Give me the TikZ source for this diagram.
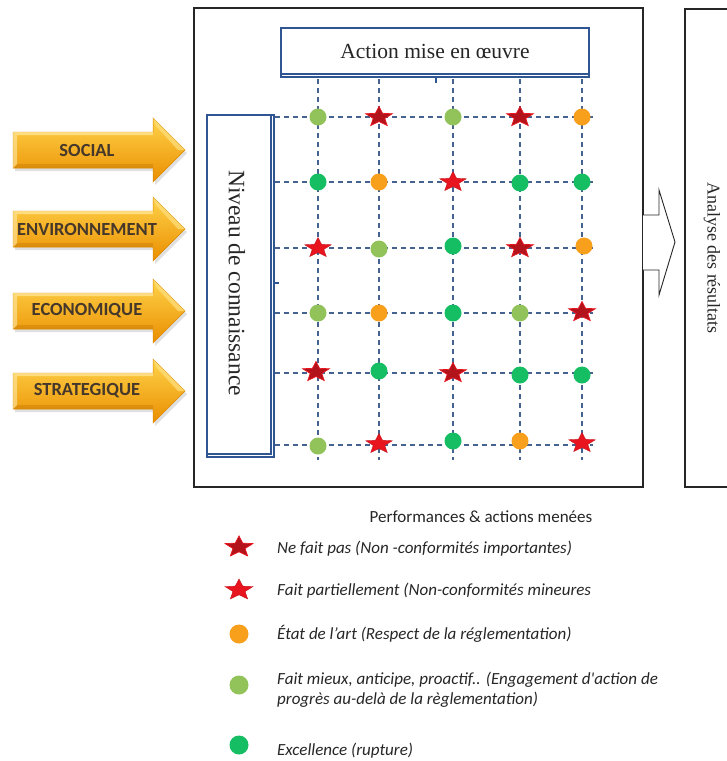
\documentclass[tikz,border=0pt]{standalone}
\usepackage{fontspec}
\setmainfont{Liberation Serif}
\newfontfamily\calib{Carlito}
\usetikzlibrary{shapes.geometric}

\definecolor{boxblue}{HTML}{2F5593}
\definecolor{gridblue}{HTML}{46638F}
\definecolor{darkstar}{HTML}{B3141C}
\definecolor{redstar}{HTML}{E8141E}
\definecolor{lgreen}{HTML}{92C35B}
\definecolor{dgreen}{HTML}{16BE63}
\definecolor{orng}{HTML}{F8A01C}
\definecolor{arrtop}{HTML}{FFD34A}
\definecolor{arrmid}{HTML}{FDB515}
\definecolor{arrbot}{HTML}{EA8E00}
\definecolor{arredge}{HTML}{D98800}
\definecolor{txt}{HTML}{262626}

\tikzset{
  dot/.style={circle, inner sep=0pt, minimum size=17pt},
  starbase/.style={star, star points=5, star point ratio=2.3, inner sep=0pt,
    minimum size=28pt, yscale=0.75, transform shape},
  pics/lg/.style={code={\node[dot, fill=lgreen] (-s) {};}},
  pics/gg/.style={code={\node[dot, fill=dgreen] (-s) {};}},
  pics/og/.style={code={\node[dot, fill=orng] (-s) {};}},
  pics/ds/.style={code={\node[starbase, fill=darkstar, draw=redstar, line width=0.7pt] (-s) {};}},
  pics/rs/.style={code={\node[starbase, fill=redstar, draw=darkstar!70!redstar, line width=0.4pt] (-s) {};}},
  gridline/.style={gridblue, line width=1.1pt, dash pattern=on 5pt off 4pt},
  lbl/.style={font=\calib\bfseries\fontsize{18.5}{20}\selectfont, text=txt!80!brown, inner sep=0pt},
  legend/.style={font=\calib\itshape\fontsize{17}{20}\selectfont, text=txt, anchor=west, inner sep=0pt, align=left},
}

\begin{document}
\begin{tikzpicture}[x=1pt, y=-1pt]
\useasboundingbox (0,0) rectangle (727,761);

% orange input arrows on the left
\foreach \n/\yy/\t in {soc/150/SOCIAL, env/229/ENVIRONNEMENT, eco/311/ECONOMIQUE, stra/391/STRATEGIQUE} {
  \fill[black, opacity=0.12] (15,\yy-15) -- (155,\yy-15) -- (155,\yy-29) -- (187,\yy+3) -- (155,\yy+35) -- (155,\yy+21) -- (15,\yy+21) -- cycle;
  \shade[top color=arrtop, middle color=arrmid, bottom color=arrbot, draw=arredge, line width=0.5pt]
    (13,\yy-18) -- (153,\yy-18) -- (153,\yy-32) -- (185,\yy) -- (153,\yy+32) -- (153,\yy+18) -- (13,\yy+18) -- cycle;
  \fill[arrtop!60!white, opacity=0.8] (13,\yy-18) -- (153,\yy-18) -- (153,\yy-15) -- (17,\yy-15) -- cycle;
  \fill[arrtop!70!white, opacity=0.7] (153,\yy-32) -- (185,\yy) -- (178,\yy) -- (156,\yy-24) -- cycle;
  \fill[arrbot!80!black, opacity=0.35] (13,\yy+18) -- (153,\yy+18) -- (153,\yy+14) -- (17,\yy+14) -- cycle;
  \fill[arrtop!50!white, opacity=0.6] (13,\yy-18) -- (17,\yy-15) -- (17,\yy+14) -- (13,\yy+18) -- cycle;
  \node[lbl] (\n) at (87,\yy) {\t};
}

% main frame
\draw[black!85, line width=1.2pt] (194,8) rectangle (643,487);

% hollow arrow towards the analysis frame
\draw[black!85, fill=white, line width=0.9pt]
  (643,215) -- (659,215) -- (659,190) -- (675,242) -- (659,295) -- (659,270) -- (643,270);

% analysis frame on the right
\draw[black!85, line width=1.2pt] (730,9) -- (685,9) -- (685,487) -- (730,487);
\node[rotate=-90, font=\fontsize{18}{20}\selectfont, text=txt] (analyse) at (712,258) {Analyse des résultats};

% grid of dashed lines
\foreach \xx in {318,379,453,520,582} \draw[gridline] (\xx,79) -- (\xx,460);
\foreach \yy in {117,182,248,313,373,445} \draw[gridline] (275,\yy) -- (593,\yy);

% header box
\draw[boxblue, line width=1.4pt] (281,73) -- (281,77) -- (589,77) -- (589,73);
\draw[boxblue, line width=1.8pt, fill=white] (281,28) rectangle (589,74);
\node[font=\fontsize{21.5}{24}\selectfont, text=txt] (action) at (435,51) {Action mise en œuvre};
\draw[boxblue, line width=1.5pt] (436,78) -- (436,83);

% side box
\draw[boxblue, line width=1.4pt] (270,115) -- (274,115) -- (274,457) -- (207,457) -- (207,453);
\draw[boxblue, line width=1.8pt, fill=white] (207,115) rectangle (271,454);
\node[rotate=-90, font=\fontsize{23.5}{26}\selectfont, text=txt] (niveau) at (237,283) {Niveau de connaissance};
\draw[boxblue, line width=1.5pt] (275,283) -- (279,283);

% markers
\pic (m11) at (318,117) {lg};
\pic (m12) at (379,117) {ds};
\pic (m13) at (453,117) {lg};
\pic (m14) at (520,117) {ds};
\pic (m15) at (582,117) {og};
\pic (m21) at (318,182) {gg};
\pic (m22) at (379,182) {og};
\pic (m23) at (453,182) {rs};
\pic (m24) at (520,183) {gg};
\pic (m25) at (582,182) {gg};
\pic (m31) at (318,248) {rs};
\pic (m32) at (379,249) {lg};
\pic (m33) at (453,246) {gg};
\pic (m34) at (520,248) {ds};
\pic (m35) at (584,246) {og};
\pic (m41) at (318,313) {lg};
\pic (m42) at (379,313) {og};
\pic (m43) at (453,313) {gg};
\pic (m44) at (520,313) {lg};
\pic (m45) at (582,312) {ds};
\pic (m51) at (316,372) {ds};
\pic (m52) at (379,371) {gg};
\pic (m53) at (453,373) {ds};
\pic (m54) at (520,375) {gg};
\pic (m55) at (582,375) {gg};
\pic (m61) at (318,446) {lg};
\pic (m62) at (379,444) {rs};
\pic (m63) at (453,441) {gg};
\pic (m64) at (520,441) {og};
\pic (m65) at (582,443) {rs};

% legend
\node[font=\calib\fontsize{17}{20}\selectfont, text=txt] (ltitle) at (481,517) {Performances \& actions menées};
\pic[scale=1.05] (k1) at (239,547) {ds};
\pic[scale=1.05] (k2) at (239,590) {rs};
\node[dot, minimum size=19pt, fill=orng] (k3) at (239,634) {};
\node[dot, minimum size=19pt, fill=lgreen] (k4) at (239,685) {};
\node[dot, minimum size=19pt, fill=dgreen] (k5) at (239,745) {};
\node[legend] (t1) at (277,549) {Ne fait pas (Non -conformités importantes)};
\node[legend] (t2) at (277,591) {Fait partiellement (Non-conformités mineures};
\node[legend] (t3) at (277,634) {État de l’art (Respect de la réglementation)};
\node[legend] (t4) at (277,690) {Fait mieux, anticipe, proactif.. (Engagement d'action de\\progrès au-delà de la règlementation)};
\node[legend] (t5) at (277,751) {Excellence (rupture)};
\end{tikzpicture}
\end{document}
